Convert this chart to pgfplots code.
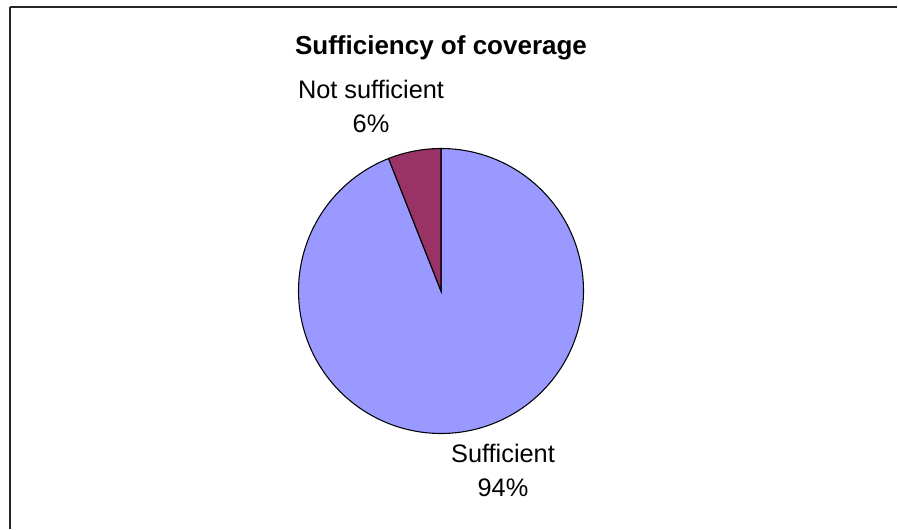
\documentclass[border=0pt]{standalone}
\usepackage{pgfplots}
\pgfplotsset{compat=1.18}
\usepackage{fontspec}
\setmainfont{Liberation Sans}

\definecolor{suffblue}{HTML}{9999FF}
\definecolor{notsuff}{HTML}{993366}

% Shares of the two answers (percent)
\def\valSuff{94}
\def\valNot{6}

\begin{document}
\begin{tikzpicture}
\pgfmathsetmacro\angSuff{90-3.6*\valSuff}
\pgfmathsetmacro\angNot{90+3.6*\valNot}
\begin{axis}[
  width=673.5pt, height=396.75pt, scale only axis,
  xmin=0, xmax=898, ymin=0, ymax=529,
  hide axis, clip=false,
]
% frame: only its top and left edges fall inside the picture
\draw[line width=1.6pt, black!85, line cap=butt] (axis cs:10,0) -- (axis cs:10,522);
\draw[line width=1.6pt, black!85, line cap=butt] (axis cs:9.5,522) -- (axis cs:897,522);

% slices, clockwise from twelve o'clock
\addplot[fill=suffblue, draw=black, line width=0.8pt, domain=\angSuff:90, samples=240, smooth]
  ({441+142.5*cos(x)}, {238+142.5*sin(x)}) -- (axis cs:441,238) -- cycle;
\addplot[fill=notsuff, draw=black, line width=0.8pt, domain=90:\angNot, samples=30, smooth]
  ({441+142.5*cos(x)}, {238+142.5*sin(x)}) -- (axis cs:441,238) -- cycle;

% title and labels
\node[anchor=base, font=\fontsize{19.5}{22}\selectfont\bfseries] at (axis cs:441,474) {Sufficiency of coverage};
\node[anchor=base, font=\fontsize{19}{22}\selectfont] at (axis cs:371,430) {Not sufficient};
\node[anchor=base, font=\fontsize{19}{22}\selectfont] at (axis cs:371,396.5) {\valNot\%};
\node[anchor=base, font=\fontsize{19}{22}\selectfont] at (axis cs:503,66.5) {Sufficient};
\node[anchor=base, font=\fontsize{19}{22}\selectfont] at (axis cs:503,33) {\valSuff\%};
\end{axis}
\pgfresetboundingbox
\path[use as bounding box] (current axis.south west) rectangle (current axis.north east);
\end{tikzpicture}
\end{document}
